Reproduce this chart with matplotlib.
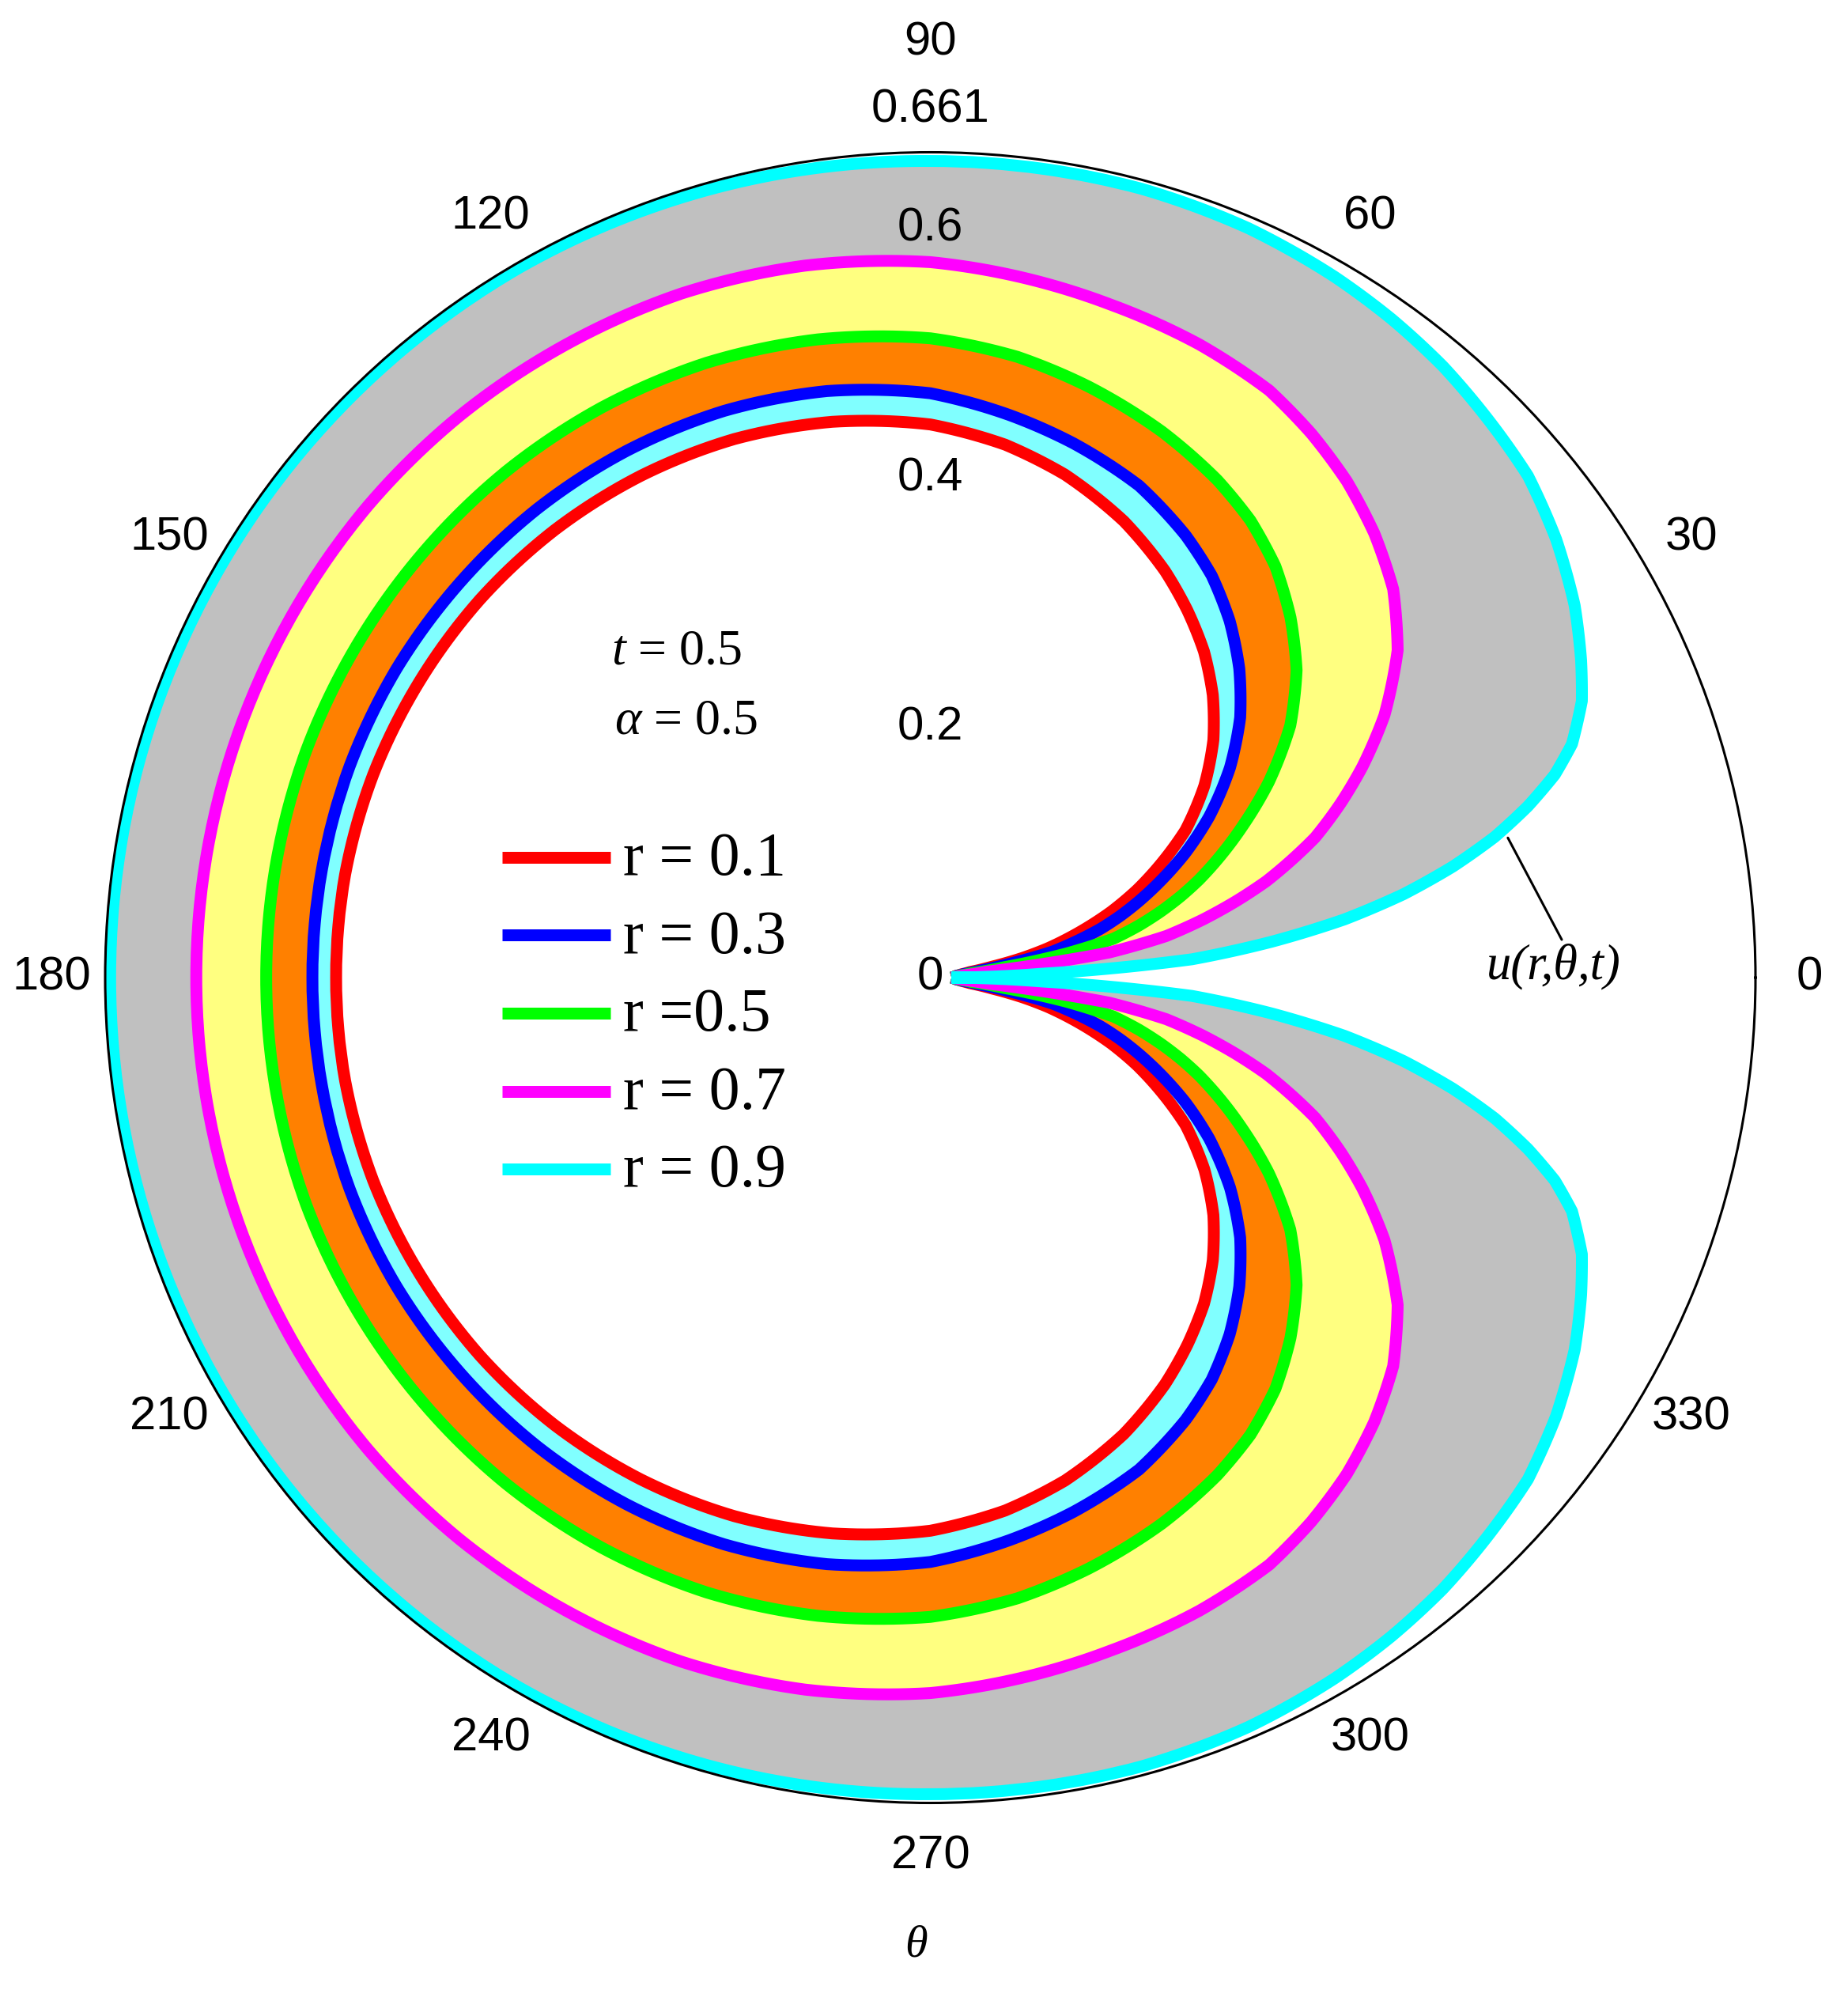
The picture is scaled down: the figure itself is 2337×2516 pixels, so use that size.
import numpy as np
import matplotlib.pyplot as plt
from matplotlib.lines import Line2D

plt.rcParams['mathtext.fontset'] = 'custom'
plt.rcParams['mathtext.rm'] = 'Liberation Serif'
plt.rcParams['mathtext.it'] = 'Liberation Serif:italic'
plt.rcParams['path.simplify'] = False

# upper half only (deg), the curves are symmetric about theta = 0
theta_deg = [0, 2, 4, 6, 8, 10, 12, 14, 16, 18, 20, 23, 26, 30, 35, 40, 45, 50,
             55, 60, 67, 75, 82, 90, 100, 110, 120, 130, 140, 150, 160, 170, 180]

u_r01 = [.017, .019, .021, .025, .032, .050, .075, .097, .116, .135, .154, .180, .204,
         .236, .268, .296, .320, .341, .359, .376, .397, .417, .431, .443, .452, .459,
         .464, .468, .471, .473, .475, .476, .476]
u_r03 = [.017, .019, .021, .027, .040, .066, .100, .121, .142, .160, .177, .202, .227,
         .258, .293, .324, .350, .373, .393, .409, .428, .443, .455, .468, .477, .483,
         .487, .490, .492, .494, .495, .495, .495]
u_r05 = [.017, .019, .023, .033, .060, .110, .150, .172, .192, .211, .229, .254, .279,
         .313, .352, .383, .408, .430, .447, .460, .475, .490, .502, .512, .519, .524,
         .527, .529, .530, .531, .532, .532, .532]
u_r07 = [.017, .020, .027, .046, .145, .192, .223, .252, .280, .304, .328, .357, .385,
         .420, .457, .484, .503, .519, .532, .543, .551, .558, .565, .573, .579, .583,
         .585, .587, .588, .588, .588, .588, .588]
u_r09 = [.017, .090, .210, .275, .335, .385, .428, .466, .498, .526, .547, .567, .580,
         .596, .612, .625, .632, .639, .644, .648, .652, .654, .654, .654, .655, .656,
         .657, .657, .657, .657, .657, .657, .657]

curve_labels = ['r = 0.1', 'r = 0.3', 'r =0.5', 'r = 0.7', 'r = 0.9']
line_colors = ['#ff0000', '#0000ff', '#00ff00', '#ff00ff', '#00ffff']
band_colors = ['#80ffff', '#ff8000', '#ffff80', '#c0c0c0']

angle_ticks = [0, 30, 60, 90, 120, 150, 180, 210, 240, 270, 300, 330]
radial_ticks = [0, 0.2, 0.4, 0.6]
r_max = 0.661

W, H = 2337, 2516
fig = plt.figure(figsize=(W / 100, H / 100), dpi=100)
cx, cy, R = 1176.5, 1236, 1043.5
ax = fig.add_axes([(cx - R) / W, (H - cy - R) / H, 2 * R / W, 2 * R / H], projection='polar')


def mirror(vals):
    vals = np.asarray(vals, dtype=float)
    return np.concatenate([vals, vals[::-1][1:]])


th_half = np.asarray(theta_deg, dtype=float)
th = np.deg2rad(np.concatenate([th_half, 360 - th_half[::-1][1:]]))
curves = [mirror(c) for c in [u_r01, u_r03, u_r05, u_r07, u_r09]]

# coloured bands between neighbouring curves
for i, col in enumerate(band_colors):
    polys = ax.fill(np.concatenate([th, th[::-1]]),
                    np.concatenate([curves[i + 1], curves[i][::-1]]),
                    color=col, lw=0, zorder=1)
    for p in polys:
        p.get_path()._interpolation_steps = 12  # draw segments as polar arcs

for c, col in zip(curves, line_colors):
    ln, = ax.plot(th, c, color=col, lw=10.8, solid_joinstyle='round',
                  solid_capstyle='butt', zorder=2)
    ln.get_path()._interpolation_steps = 12

ax.set_ylim(0, r_max)
ax.set_xticks([])
ax.set_yticks([])
ax.grid(False)
ax.spines['polar'].set_linewidth(2.2)
ax.spines['polar'].set_color('black')

# angle labels
for a in angle_ticks:
    rr = 0.749 if a == 90 else 0.704
    ax.text(np.deg2rad(a), rr, str(a), ha='center', va='center',
            fontsize=43, family='Liberation Sans')

# radial labels along 90 deg
for v in radial_ticks:
    lab = '0' if v == 0 else f'{v:.1f}'
    ax.text(np.pi / 2 if v else 0, v, lab, ha='center', va='center',
            fontsize=43, family='Liberation Sans', zorder=4)
ax.text(np.pi / 2, 0.695, '0.661', ha='center', va='center',
        fontsize=43, family='Liberation Sans')

# legend drawn by hand
for i, (lab, col) in enumerate(zip(curve_labels, line_colors)):
    y = 1084 + 98.5 * i
    fig.add_artist(Line2D([635 / W, 772 / W], [1 - y / H, 1 - y / H],
                          color=col, lw=10.8, solid_capstyle='butt'))
    fig.text(788 / W, 1 - (y + 22) / H, lab, fontsize=56,
             family='Liberation Serif', va='baseline')

fig.text(773 / W, 1 - 840 / H, r'$t$ = 0.5', fontsize=46,
         family='Liberation Serif', va='baseline')
fig.text(777 / W, 1 - 928 / H, r'$\alpha$ = 0.5', fontsize=46,
         family='Liberation Serif', va='baseline')

ax.annotate('', xy=(np.deg2rad(13.6), 0.476), xytext=(1975 / W, 1 - 1188 / H),
            textcoords='figure fraction',
            arrowprops=dict(arrowstyle='-', color='black', lw=2.2, shrinkA=0, shrinkB=0))
fig.text(1965 / W, 1 - 1222 / H, 'u(r,θ,t)', ha='center', va='center', fontsize=45,
         family='Liberation Serif', style='italic')

fig.text(1158 / W, 1 - 2460 / H, 'θ', ha='center', va='center', fontsize=42,
         family='Liberation Serif', style='italic')

fig.savefig('out.png', dpi=100, facecolor='white')
